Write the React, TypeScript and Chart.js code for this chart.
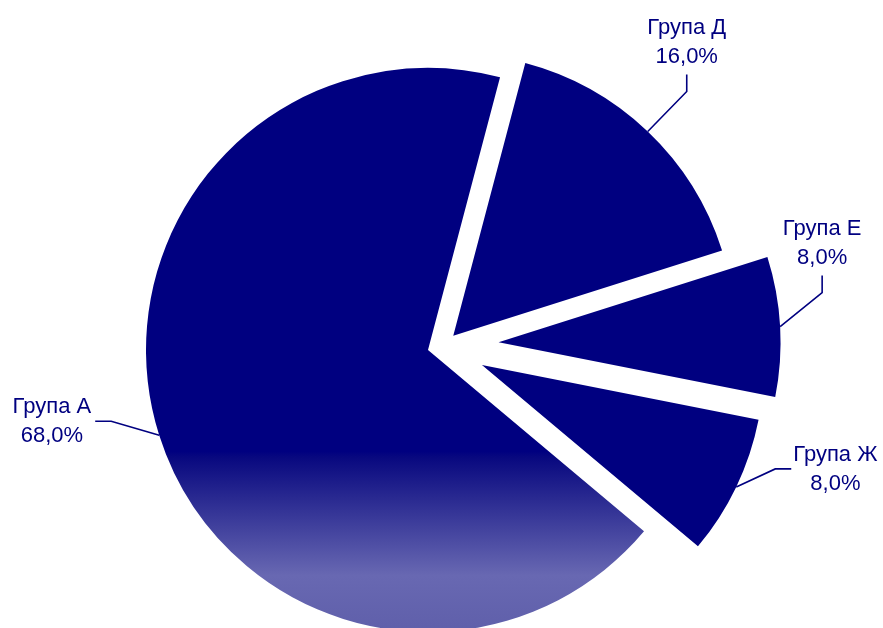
import React, { useEffect, useRef } from "react";
import { Chart, registerables } from "chart.js";

Chart.register(...registerables);

// ---- data ----
const groups = ["Група А", "Група Д", "Група Е", "Група Ж"];
const shares = [68, 16, 8, 8];

// ---- style ----
const NAVY = "#000080";
const FONT = '"Liberation Sans", Arial, sans-serif';
const FONT_SIZE = 22;
const LINE_GAP = 29;
const PIE_RADIUS = 282;
const ROTATION = 130;
const explodeDist = [0, 29, 71, 56];
const explodeTurnDeg = [0, 17, -3, -10];
const leaderElbow: [number, number][] = [
  [-48, -14],
  [39, -40],
  [42, -34],
  [39, -18],
];
const leaderTail = ["left", "up", "up", "right"];
const TAIL_LEN = 16;

function fmtPct(v: number, total: number) {
  return ((v / total) * 100).toFixed(1).replace(".", ",") + "%";
}

function sliceFill(context: any) {
  if (context.dataIndex !== 0) return NAVY;
  const chart = context.chart;
  const area = chart.chartArea;
  if (!area) return NAVY;
  const cy = (area.top + area.bottom) / 2;
  const R = PIE_RADIUS;
  const g = chart.ctx.createLinearGradient(0, cy - R, 0, cy + R);
  g.addColorStop(0, NAVY);
  g.addColorStop(0.68, NAVY);
  g.addColorStop(0.69, "#08087f");
  g.addColorStop(0.9, "#6868b2");
  g.addColorStop(1, "#5f5faa");
  return g;
}

function shiftOf(el: any, i: number) {
  const h = (el.startAngle + el.endAngle) / 2 + (explodeTurnDeg[i] * Math.PI) / 180;
  return [Math.cos(h) * explodeDist[i], Math.sin(h) * explodeDist[i]];
}

const explodePlugin = {
  id: "explodeSlices",
  beforeDatasetDraw(chart: any, args: any) {
    const ctx = chart.ctx;
    args.meta.data.forEach((el: any, i: number) => {
      const [dx, dy] = shiftOf(el, i);
      ctx.save();
      ctx.translate(dx, dy);
      el.draw(ctx, chart.chartArea);
      ctx.restore();
    });
    return false;
  },
  afterDatasetsDraw(chart: any) {
    const ctx = chart.ctx;
    const meta = chart.getDatasetMeta(0);
    const total = shares.reduce((a, b) => a + b, 0);
    ctx.save();
    ctx.strokeStyle = NAVY;
    ctx.fillStyle = NAVY;
    ctx.lineWidth = 1.6;
    ctx.font = `${FONT_SIZE}px ${FONT}`;
    ctx.textBaseline = "alphabetic";
    meta.data.forEach((el: any, i: number) => {
      const [dx, dy] = shiftOf(el, i);
      const h = (el.startAngle + el.endAngle) / 2;
      const ex = el.x + dx + Math.cos(h) * el.outerRadius;
      const ey = el.y + dy + Math.sin(h) * el.outerRadius;
      const bx = ex + leaderElbow[i][0];
      const by = ey + leaderElbow[i][1];
      let tx = bx;
      let ty = by;
      const tail = leaderTail[i];
      if (tail === "left") tx = bx - TAIL_LEN;
      else if (tail === "right") tx = bx + TAIL_LEN;
      else ty = by - TAIL_LEN - 1;
      ctx.beginPath();
      ctx.moveTo(ex, ey);
      ctx.lineTo(bx, by);
      ctx.lineTo(tx, ty);
      ctx.stroke();

      const lines = [groups[i], fmtPct(shares[i], total)];
      const widths = lines.map((t) => ctx.measureText(t).width);
      const blockW = Math.max(...widths);
      let cx: number;
      let base0: number;
      if (tail === "up") {
        cx = tx;
        base0 = ty - 41;
      } else if (tail === "left") {
        cx = tx - 4 - blockW / 2;
        base0 = ty - 8;
      } else {
        cx = tx + 2 + blockW / 2;
        base0 = ty - 8;
      }
      ctx.textAlign = "center";
      lines.forEach((t, k) => ctx.fillText(t, cx, base0 + k * LINE_GAP));
    });
    ctx.restore();
  },
};

export default function App() {
  const ref = useRef<HTMLCanvasElement | null>(null);
  useEffect(() => {
    if (!ref.current) return;
    const chart = new Chart(ref.current, {
      type: "pie",
      data: {
        labels: groups,
        datasets: [
          {
            data: shares,
            backgroundColor: sliceFill,
            borderWidth: 0,
            offset: 0,
            hoverOffset: 0,
            clip: false,
          } as any,
        ],
      },
      options: {
        animation: false,
        responsive: true,
        maintainAspectRatio: false,
        events: [],
        rotation: ROTATION,
        radius: PIE_RADIUS,
        layout: { padding: { left: 0, right: 27, top: 72, bottom: 0 } },
        plugins: {
          legend: { display: false },
          tooltip: { enabled: false },
        },
      } as any,
      plugins: [explodePlugin],
    });
    return () => chart.destroy();
  }, []);
  return (
    <div
      style={{
        position: "absolute",
        left: 0,
        top: 0,
        width: 883,
        height: 628,
        background: "#ffffff",
      }}
    >
      <canvas ref={ref} />
    </div>
  );
}
